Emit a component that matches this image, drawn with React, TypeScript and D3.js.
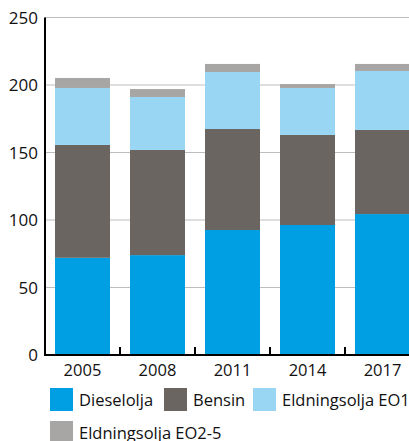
import * as d3 from 'd3';
import { useEffect, useRef } from 'react';

const years = ['2005', '2008', '2011', '2014', '2017'];
const dieselolja = [72, 74, 92.6, 96.3, 104.4];
const bensin = [83.6, 77.9, 74.8, 66.7, 62.3];
const eo1 = [42.2, 39.2, 42.2, 34.8, 43.7];
const eo25 = [7.4, 5.9, 6, 2.9, 5.2];
const seriesNames = ['Dieselolja', 'Bensin', 'Eldningsolja EO1', 'Eldningsolja EO2-5'];
const colors = ['#009fe3', '#6a6561', '#98d6f4', '#a8a6a4'];
const yTicks = [0, 50, 100, 150, 200, 250];

function App() {
    const svgRef = useRef<SVGSVGElement>(null);

    useEffect(() => {
        const w = 409;
        const h = 441;
        const font = '"Open Sans", sans-serif';
        const svg = d3.select(svgRef.current)
            .attr('width', w)
            .attr('height', h);
        svg.selectAll('*').remove();

        const x0 = 45;
        const y0 = 355;

        const xScale = d3.scaleBand()
            .domain(years)
            .range([x0, 420])
            .paddingInner(0.2667)
            .paddingOuter(0.1333);

        const yScale = d3.scaleLinear()
            .domain([0, 250])
            .range([y0, 17.5]);

        // grid
        svg.append('g')
            .selectAll('line')
            .data(yTicks.filter(t => t > 0))
            .join('line')
                .attr('x1', x0)
                .attr('x2', w)
                .attr('y1', d => yScale(d))
                .attr('y2', d => yScale(d))
                .attr('stroke', '#bdbdbd')
                .attr('stroke-width', 1);

        const table = years.map((y, i) => ({
            year: y,
            s0: dieselolja[i],
            s1: bensin[i],
            s2: eo1[i],
            s3: eo25[i],
        }));
        const stack = d3.stack<any>().keys(['s0', 's1', 's2', 's3'])(table);

        svg.append('g')
            .selectAll('g')
            .data(stack)
            .join('g')
                .attr('fill', (d, i) => colors[i])
            .selectAll('rect')
            .data(d => d)
            .join('rect')
                .attr('x', d => xScale(d.data.year)!)
                .attr('y', d => yScale(d[1]))
                .attr('width', xScale.bandwidth())
                .attr('height', d => yScale(d[0]) - yScale(d[1]));

        // axes
        svg.append('line')
            .attr('x1', x0).attr('x2', x0)
            .attr('y1', yScale(250)).attr('y2', y0 + 1)
            .attr('stroke', '#000').attr('stroke-width', 2);
        svg.append('line')
            .attr('x1', x0 - 1).attr('x2', w)
            .attr('y1', y0).attr('y2', y0)
            .attr('stroke', '#000').attr('stroke-width', 2);

        // category dividers
        const step = xScale.step();
        svg.append('g')
            .selectAll('line')
            .data(years.slice(1))
            .join('line')
                .attr('x1', d => xScale(d)! - (step - xScale.bandwidth()) / 2)
                .attr('x2', d => xScale(d)! - (step - xScale.bandwidth()) / 2)
                .attr('y1', y0 - 8)
                .attr('y2', y0)
                .attr('stroke', '#000')
                .attr('stroke-width', 2);

        svg.append('g')
            .selectAll('text')
            .data(yTicks)
            .join('text')
                .attr('x', 38)
                .attr('y', d => yScale(d) + 6)
                .attr('text-anchor', 'end')
                .style('font-family', font)
                .style('font-size', '17px')
                .attr('fill', '#111')
                .text(d => d);

        svg.append('g')
            .selectAll('text')
            .data(years)
            .join('text')
                .attr('x', d => xScale(d)! + xScale.bandwidth() / 2)
                .attr('y', 376)
                .attr('text-anchor', 'middle')
                .style('font-family', font)
                .style('font-size', '16.5px')
                .attr('fill', '#111')
                .text(d => d);

        // legend
        const legendPos = [[50, 388], [164, 388], [253, 388], [50, 421]];
        const legend = svg.append('g')
            .selectAll('g')
            .data(seriesNames)
            .join('g')
                .attr('transform', (d, i) => `translate(${legendPos[i][0]},${legendPos[i][1]})`);
        legend.append('rect')
            .attr('width', 23)
            .attr('height', 23)
            .attr('fill', (d, i) => colors[i]);
        legend.append('text')
            .attr('x', 29)
            .attr('y', 18)
            .style('font-family', font)
            .style('font-size', '16.5px')
            .attr('fill', '#111')
            .text(d => d);
    }, []);

    return (
        <div style={{ position: 'absolute', left: 0, top: 0 }}>
            <svg ref={svgRef} style={{ display: 'block' }}></svg>
        </div>
    );
}

export default App;
